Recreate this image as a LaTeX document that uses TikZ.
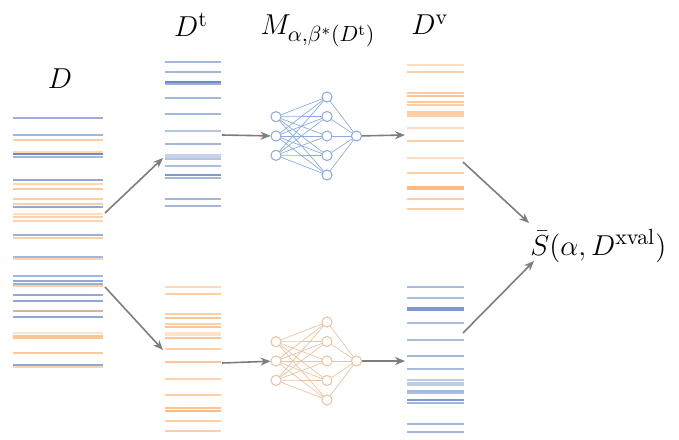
\documentclass[tikz,border=0pt]{standalone}
\usetikzlibrary{arrows.meta}

\definecolor{rowblue}{RGB}{72,110,184}
\definecolor{roworange}{RGB}{253,158,76}
\definecolor{netblue}{RGB}{140,172,222}
\definecolor{netorange}{RGB}{232,196,164}
\definecolor{flowgray}{RGB}{125,125,125}

\tikzset{
  rowline/.style={line width=1pt},
  unit/.style={circle, draw=#1, fill=white, line width=0.45pt, minimum size=5pt, inner sep=0pt},
  wire/.style={draw=#1, line width=0.35pt},
  flow/.style={draw=flowgray, line width=0.8pt, -{Stealth[length=5pt,width=4pt]}},
  lbl/.style={font=\fontsize{15.5}{18}\selectfont, inner sep=0pt},
}

% one stack of data rows: x-start, x-end, list of y/colour/opacity
\newcommand{\datarows}[3]{%
  \foreach \yy/\cc/\oo in {#3}
    \draw[rowline, draw=\cc, draw opacity=\oo] (#1,\yy) -- (#2,\yy);%
}

% small fully connected net: prefix, colour, y of centre
\newcommand{\smallnet}[3]{%
  \foreach \k/\dy in {1/-19.3, 2/0, 3/19.3}
    \node[unit=#2] (#1i\k) at (276,#3+\dy) {};
  \foreach \k/\dy in {1/-39, 2/-19.5, 3/0, 4/19.5, 5/39}
    \node[unit=#2] (#1h\k) at (327,#3+\dy) {};
  \node[unit=#2] (#1o) at (356.5,#3) {};
  \foreach \a in {1,2,3}
    \foreach \b in {1,...,5}
      \draw[wire=#2] (#1i\a) -- (#1h\b);
  \foreach \b in {1,...,5}
    \draw[wire=#2] (#1h\b) -- (#1o);
  % redraw the units above the wires
  \foreach \k/\dy in {1/-19.3, 2/0, 3/19.3}
    \node[unit=#2] at (276,#3+\dy) {};
  \foreach \k/\dy in {1/-39, 2/-19.5, 3/0, 4/19.5, 5/39}
    \node[unit=#2] at (327,#3+\dy) {};
  \node[unit=#2] at (356.5,#3) {};
}

\begin{document}
\begin{tikzpicture}[x=0.5pt, y=-0.5pt]
\useasboundingbox (0,0) rectangle (679,439);

% full data set D
\datarows{13}{103}{117.7/rowblue/.55, 135/rowblue/.5, 139.7/roworange/.5,
  152.2/roworange/.4, 153.8/rowblue/.8, 156.7/rowblue/.5,
  180/rowblue/.6, 183.7/roworange/.45, 188.7/roworange/.55, 199/roworange/.5,
  204.3/roworange/.5, 206.7/rowblue/.6, 214/roworange/.35, 217.3/roworange/.5,
  221/roworange/.45, 235.3/rowblue/.55, 238.3/roworange/.5,
  257.3/rowblue/.5, 259.3/roworange/.45, 276/rowblue/.5, 280.7/rowblue/.6,
  284.3/rowblue/.55, 286/roworange/.5, 295/rowblue/.6, 300.7/rowblue/.6,
  311/roworange/.6, 311/rowblue/.2, 317.3/rowblue/.6, 332.7/roworange/.3,
  335.8/roworange/.6, 337.6/roworange/.6, 352.7/roworange/.55,
  364.7/rowblue/.6, 367.3/roworange/.45}

% training split (top)
\datarows{165}{221}{62.3/rowblue/.5, 72.3/rowblue/.5, 82.4/rowblue/.8, 84/rowblue/.55,
  98.3/rowblue/.5, 114/rowblue/.5, 130.7/rowblue/.4, 144/rowblue/.5,
  155/rowblue/.3, 157.3/rowblue/.3, 159.3/rowblue/.4, 165.7/rowblue/.45,
  175/rowblue/.7, 177.7/rowblue/.5, 199/rowblue/.5, 205.7/rowblue/.5}

% training split (bottom)
\datarows{165}{221}{286.7/roworange/.4, 294/roworange/.5, 314.3/roworange/.5,
  317.7/roworange/.6, 324.3/roworange/.5, 327.3/roworange/.6,
  333/roworange/.3, 335/roworange/.3, 338.3/roworange/.6, 349.3/roworange/.5,
  362.3/roworange/.6, 379/roworange/.45, 395/roworange/.5, 408.3/roworange/.6,
  410.7/roworange/.7, 420.7/roworange/.5, 430.7/roworange/.5}

% validation split (top)
\datarows{407}{464}{65/roworange/.35, 72.3/roworange/.5, 92.7/roworange/.55,
  96/roworange/.6, 102.3/roworange/.55, 105.3/roworange/.5, 112/roworange/.5,
  113.7/roworange/.5, 116/roworange/.5, 127.7/roworange/.35, 140.7/roworange/.5,
  157.7/roworange/.35, 173/roworange/.5, 186.7/roworange/.7, 188.7/roworange/.7,
  199.3/roworange/.5, 209.3/roworange/.5}

% validation split (bottom)
\datarows{407}{464}{287.3/rowblue/.45, 297.7/rowblue/.45, 308.3/rowblue/.7,
  310/rowblue/.7, 323.3/rowblue/.45, 339.7/rowblue/.45, 356.3/rowblue/.5,
  369.3/rowblue/.45, 380/rowblue/.35, 382.5/rowblue/.35, 385/rowblue/.35,
  391/rowblue/.5, 393.3/rowblue/.45, 400.3/rowblue/.7, 403.3/rowblue/.5,
  424.3/rowblue/.5, 431.7/rowblue/.5}

% the two trained models
\smallnet{t}{netblue}{136}
\smallnet{b}{netorange}{361}

% labels
\node[lbl] (lD)  at (60,79)  {$D$};
\node[lbl] (lDt) at (191,25) {$D^{\mathrm{t}}$};
\node[lbl] (lM)  at (318,31) {$M_{\alpha,\beta^*(D^{\mathrm{t}})}$};
\node[lbl] (lDv) at (430,25) {$D^{\mathrm{v}}$};
\node[lbl, anchor=west] (S) at (530,246) {$\bar{S}(\alpha, D^{\mathrm{xval}})$};

% connector end points on the row stacks
\coordinate (Dup)   at (105,213);
\coordinate (Ddn)   at (105,287);
\coordinate (Dtin)  at (163,158);
\coordinate (Dbin)  at (163,350);
\coordinate (Dtout) at (222,135);
\coordinate (Dbout) at (222,363);
\coordinate (Dvtin) at (405,135);
\coordinate (Dvbin) at (405,361);
\coordinate (Dvtout) at (463,162);
\coordinate (Dvbout) at (463,333);
\coordinate (Stop)  at (529,223);
\coordinate (Sbot)  at (534,261);

\draw[flow] (Dup) -- (Dtin);
\draw[flow] (Ddn) -- (Dbin);
\draw[flow] (Dtout) -- (ti2);
\draw[flow] (Dbout) -- (bi2);
\draw[flow] (to) -- (Dvtin);
\draw[flow] (bo) -- (Dvbin);
\draw[flow] (Dvtout) -- (Stop);
\draw[flow] (Dvbout) -- (Sbot);
\end{tikzpicture}
\end{document}
